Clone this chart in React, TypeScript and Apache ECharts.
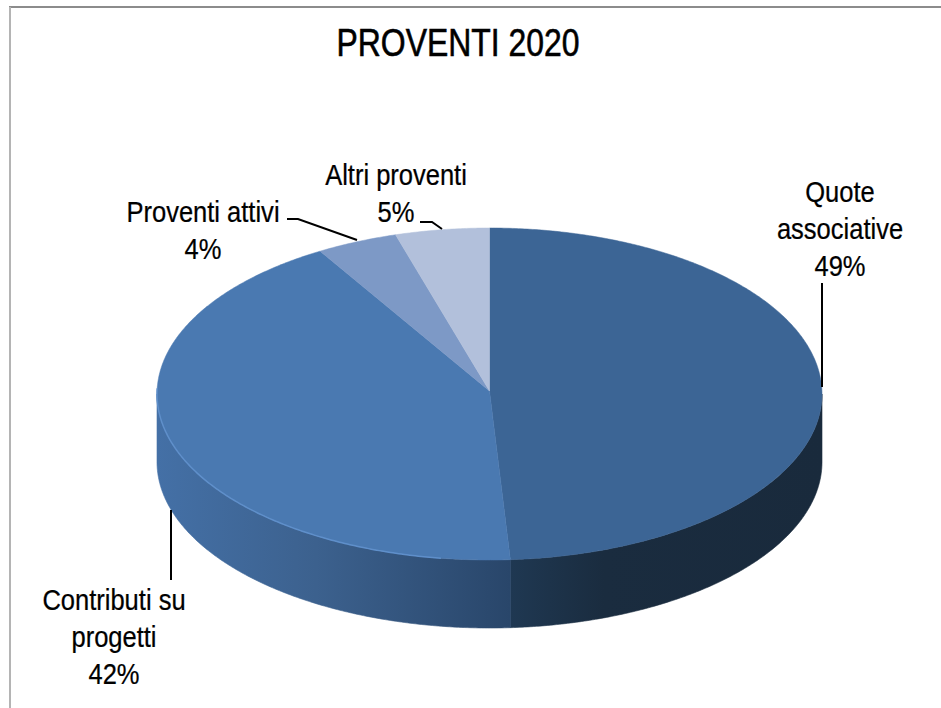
import React, { useEffect, useRef } from "react";
import * as echarts from "echarts";

const titleText = "PROVENTI 2020";
const categories = ["Quote\nassociative", "Contributi su\nprogetti", "Proventi attivi", "Altri proventi"];
const shares = [49.0, 42.49, 3.95, 4.56];
const percentLabels = ["49%", "42%", "4%", "5%"];
const topColors = ["#3c6595", "#4a79b1", "#7d99c6", "#b2c0db"];

const CX = 489.5, CY = 394, RX = 332.5, RY = 166, DEPTH = 68, APEX_Y = 391;
const total = shares.reduce((a, b) => a + b, 0);
const pt = (deg: number, dy = 0): number[] => {
  const r = (deg * Math.PI) / 180;
  return [CX + RX * Math.sin(r), CY - RY * Math.cos(r) + dy];
};
const arc = (a: number, b: number, dy = 0): number[][] => {
  const n = Math.max(2, Math.ceil(Math.abs(b - a) * 2));
  const out: number[][] = [];
  for (let i = 0; i <= n; i++) out.push(pt(a + ((b - a) * i) / n, dy));
  return out;
};

const wallGradients: Record<number, [string, string, string]> = {
  0: ["#1f3852", "#1a2c3f", "#192a3c"],
  1: ["#4470a6", "#3c618e", "#29466a"],
};
const labelSpots = [
  { x: 840, y: 192 },
  { x: 114, y: 600 },
  { x: 203, y: 212 },
  { x: 396, y: 175 },
];
const leaders = [
  [[822, 283], [822, 387]],
  [[171, 510], [171, 580]],
  [[287, 219], [298, 219], [357, 240]],
  [[420, 222], [432, 222], [442, 229]],
];
const LINE = 37;
const FONT = '29px "Liberation Sans", Arial, sans-serif';

function renderItem(params: any, api: any) {
  const i = params.dataIndex;
  const value = api.value(0);
  const before = shares.slice(0, i).reduce((a, b) => a + b, 0);
  const a0 = (before / total) * 360;
  const a1 = ((before + value) / total) * 360;
  const children: any[] = [];

  const w0 = Math.max(a0, 90), w1 = Math.min(a1, 270);
  if (w1 > w0) {
    const g = wallGradients[i];
    const fill = new echarts.graphic.LinearGradient(
      0, 0, 1, 0,
      i === 0
        ? [{ offset: 0, color: g[0] }, { offset: 0.3, color: g[1] }, { offset: 1, color: g[2] }]
        : [{ offset: 0, color: g[0] }, { offset: 0.45, color: g[1] }, { offset: 1, color: g[2] }]
    );
    children.push({
      type: "polygon",
      shape: { points: [...arc(w0, w1), ...arc(w1, w0, DEPTH)] },
      style: { fill, stroke: fill, lineWidth: 0.6 },
    });
  }
  const top = [[CX, APEX_Y], ...arc(a0, a1)];
  children.push({
    type: "polygon",
    z2: 10,
    shape: { points: top },
    style: { fill: topColors[i], stroke: topColors[i], lineWidth: 0.5 },
  });
  if (i === 1) {
    children.push({
      type: "polyline",
      z2: 11,
      shape: { points: arc(a0 + 12, 272) },
      style: { fill: "none", stroke: "#5f8fca", lineWidth: 1.5 },
    });
  }
  children.push({
    type: "polyline",
    z2: 12,
    shape: { points: leaders[i] },
    style: { fill: "none", stroke: "#000000", lineWidth: 2 },
  });
  const lines = [...categories[i].split("\n"), percentLabels[i]];
  lines.forEach((text, k) => {
    children.push({
      type: "text",
      z2: 13,
      x: labelSpots[i].x,
      y: labelSpots[i].y + k * LINE,
      scaleX: 0.88,
      style: {
        text,
        font: FONT,
        fill: "#000000",
        stroke: "#000000",
        lineWidth: 0.25,
        textAlign: "center",
        textVerticalAlign: "middle",
      },
    });
  });
  return { type: "group", children };
}

export default function App() {
  const ref = useRef<HTMLDivElement>(null);
  useEffect(() => {
    document.body.style.margin = "0";
    const chart = echarts.init(ref.current!, undefined, { renderer: "svg" });
    chart.setOption({
      animation: false,
      backgroundColor: "#ffffff",
      graphic: [
        { type: "line", shape: { x1: 9, y1: 7, x2: 941, y2: 7 }, style: { stroke: "#8c8c8c", lineWidth: 2 } },
        { type: "line", shape: { x1: 10, y1: 7, x2: 10, y2: 708 }, style: { stroke: "#b4b4b4", lineWidth: 2 } },
        {
          type: "text",
          x: 458,
          y: 42,
          scaleX: 0.84,
          style: {
            text: titleText,
            font: '38px "Liberation Sans", Arial, sans-serif',
            fill: "#000000",
            stroke: "#000000",
            lineWidth: 0.6,
            textAlign: "center",
            textVerticalAlign: "middle",
          },
        },
      ],
      series: [
        {
          type: "custom",
          coordinateSystem: "none",
          renderItem,
          data: shares.map((v) => [v]),
        },
      ],
    });
    return () => chart.dispose();
  }, []);
  return <div ref={ref} style={{ width: 941, height: 708 }} />;
}
